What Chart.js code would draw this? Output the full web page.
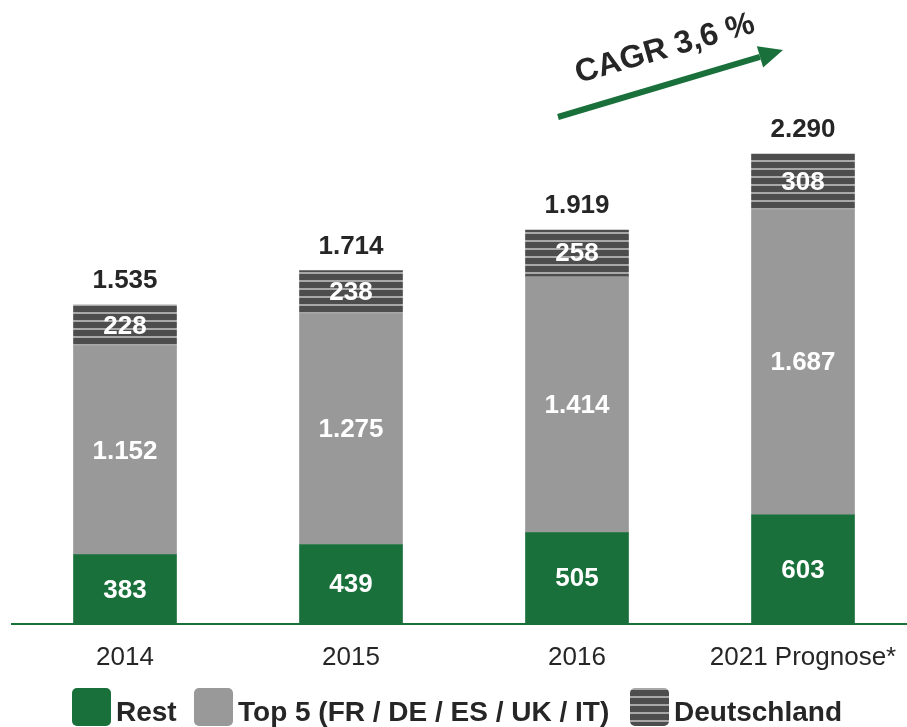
<!DOCTYPE html>
<html>
<head>
<meta charset="utf-8">
<script src="https://cdn.jsdelivr.net/npm/chart.js@4/dist/chart.umd.min.js"></script>
<style>
  html, body { margin: 0; padding: 0; background: #fff; overflow: hidden; }
  #wrap { width: 920px; height: 727px; }
</style>
</head>
<body>
<div id="wrap"><canvas id="c" width="920" height="727"></canvas></div>
<script>
// data
const years = ['2014', '2015', '2016', '2021 Prognose*'];
const rest = [383, 439, 505, 603];
const top5 = [1152, 1275, 1414, 1687];
const deutschland = [228, 238, 258, 308];
const totals = [1535, 1714, 1919, 2290];
const cagrText = 'CAGR 3,6 %';

const GREEN = '#19703a';
const GRAY = '#999999';
const DARK = '#4d4d4d';
const STRIPE = '#a8a8a8';
const TEXT = '#262626';
const FONT = '"Liberation Sans", Arial, sans-serif';

function stripePattern(ctx) {
    const c = document.createElement('canvas');
    c.width = 8; c.height = 8;
    const g = c.getContext('2d');
    g.fillStyle = DARK;
    g.fillRect(0, 0, 8, 8);
    g.fillStyle = STRIPE;
    g.fillRect(0, 0, 8, 2);
    return ctx.createPattern(c, 'repeat');
}

function fmt(n) {
    return String(n).replace(/\B(?=(\d{3})+(?!\d))/g, '.');
}

const canvas = document.getElementById('c');
const ctx = canvas.getContext('2d');
const stripes = stripePattern(ctx);

// labels inside segments + totals + arrow + legend
const extras = {
    id: 'extras',
    afterDatasetsDraw(chart) {
        const c = chart.ctx;
        c.save();
        c.textAlign = 'center';
        c.textBaseline = 'middle';
        c.font = 'bold 26px ' + FONT;
        chart.data.datasets.forEach((ds, i) => {
            chart.getDatasetMeta(i).data.forEach((bar, j) => {
                const mid = (bar.y + bar.base) / 2;
                c.fillStyle = '#ffffff';
                c.fillText(fmt(ds.data[j]), bar.x, mid + 1);
            });
        });
        const topMeta = chart.getDatasetMeta(2);
        topMeta.data.forEach((bar, j) => {
            c.fillStyle = TEXT;
            c.fillText(fmt(totals[j]), bar.x, bar.y - 24);
        });

        // CAGR arrow
        c.strokeStyle = GREEN;
        c.fillStyle = GREEN;
        c.lineWidth = 6;
        const x0 = 558, y0 = 117, x1 = 783, y1 = 50;
        const ang = Math.atan2(y1 - y0, x1 - x0);
        const hl = 24, hw = 11;
        const bx = x1 - hl * Math.cos(ang), by = y1 - hl * Math.sin(ang);
        c.beginPath();
        c.moveTo(x0, y0);
        c.lineTo(bx, by);
        c.stroke();
        c.beginPath();
        c.moveTo(x1, y1);
        c.lineTo(bx + hw * Math.sin(ang), by - hw * Math.cos(ang));
        c.lineTo(bx - hw * Math.sin(ang), by + hw * Math.cos(ang));
        c.closePath();
        c.fill();

        c.save();
        c.translate(665, 49);
        c.rotate(-0.28);
        c.fillStyle = TEXT;
        c.font = 'bold 32px ' + FONT;
        c.fillText(cagrText, 0, 0);
        c.restore();

        // legend
        const items = [
            { x: 72, tx: 116, label: 'Rest', fill: GREEN },
            { x: 194, tx: 238, label: 'Top 5 (FR / DE / ES / UK / IT)', fill: GRAY },
            { x: 630, tx: 674, label: 'Deutschland', fill: stripes }
        ];
        c.font = 'bold 28px ' + FONT;
        c.textAlign = 'left';
        c.textBaseline = 'alphabetic';
        items.forEach(it => {
            c.fillStyle = it.fill;
            c.beginPath();
            c.roundRect(it.x, 688, 39, 38, 5);
            c.fill();
            c.fillStyle = TEXT;
            c.fillText(it.label, it.tx, 721);
        });
        c.restore();
    }
};

new Chart(ctx, {
    type: 'bar',
    data: {
        labels: years,
        datasets: [
            { label: 'Rest', data: rest, backgroundColor: GREEN },
            { label: 'Top 5 (FR / DE / ES / UK / IT)', data: top5, backgroundColor: GRAY },
            { label: 'Deutschland', data: deutschland, backgroundColor: stripes }
        ]
    },
    options: {
        responsive: false,
        animation: false,
        layout: { padding: { left: 12, right: 4, top: 81, bottom: 0 } },
        plugins: { legend: { display: false }, tooltip: { enabled: false } },
        datasets: { bar: { barThickness: 103 } },
        scales: {
            x: {
                stacked: true,
                grid: { display: false },
                border: { color: GREEN, width: 2 },
                ticks: { color: TEXT, font: { family: FONT, size: 26 }, padding: 10 },
                afterFit: s => { s.height = 103; }
            },
            y: {
                stacked: true,
                display: false,
                min: 0,
                max: 3000
            }
        }
    },
    plugins: [extras]
});
</script>
</body>
</html>
